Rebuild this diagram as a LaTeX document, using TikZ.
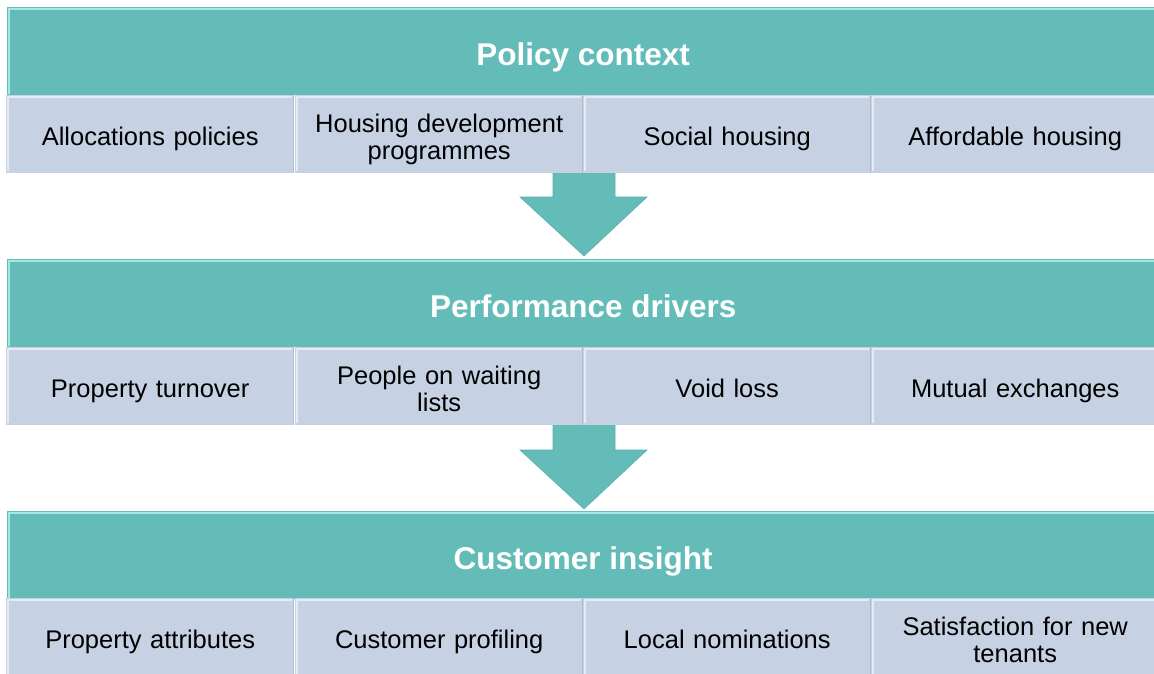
\documentclass[tikz,border=0pt]{standalone}
\usepackage{fontspec}
\setmainfont{Liberation Sans}
\usetikzlibrary{calc}
\definecolor{tealfill}{HTML}{64BCB9}
\definecolor{tealhi}{HTML}{A6E6E3}
\definecolor{tealsh}{HTML}{5AB2AF}
\definecolor{lavfill}{HTML}{C6D2E4}
\definecolor{lavhi}{HTML}{E4EBF5}
\definecolor{lavsh}{HTML}{AEBBD0}
\newcommand{\ctopstrut}{\rule{0pt}{30pt}}
\newcommand{\cbotstrut}{\rule[-6.8pt]{0pt}{0pt}}
\newcommand{\htopstrut}{\rule{0pt}{36pt}}
\newcommand{\hbotstrut}{\rule[-7.4pt]{0pt}{0pt}}
\tikzset{
  header/.style={rectangle, fill=tealfill, anchor=north west, inner sep=0pt,
    minimum width=1152pt, minimum height=88pt, text=white,
    font=\bfseries\fontsize{31.5}{34}\selectfont,
    execute at begin node=\htopstrut, execute at end node=\hbotstrut},
  subbox/.style={rectangle, fill=lavfill, anchor=north west, inner sep=0pt,
    minimum width=288pt, minimum height=78pt, text=black, text width=270pt, align=center,
    font=\fontsize{25.5}{27.5}\selectfont,
    execute at begin node=\ctopstrut, execute at end node=\cbotstrut},
  flowarrow/.style={fill=tealfill, draw=tealsh, line width=0.6pt},
  hiteal/.style={draw=tealhi, line width=2.5pt},
  hilav/.style={draw=lavhi, line width=2.5pt},
  shlav/.style={draw=lavsh, line width=1pt}
}
\newcommand{\subbevel}[1]{%
  \draw[hilav] ($(#1.south west)+(2,-2)$) -- ($(#1.north west)+(2,2)$) -- ($(#1.north east)+(-2,2)$);
  \draw[shlav] ($(#1.north east)+(-0.5,0)$) -- ($(#1.south east)+(-0.5,0)$);}
\newcommand{\headbevel}[1]{%
  \draw[hiteal] ($(#1.south west)+(2,-1)$) -- ($(#1.north west)+(2,2)$) -- ($(#1.north east)+(-2,2)$);}
\newcommand{\flowarrowat}[2]{%
  \coordinate (#1) at #2;
  \path[flowarrow] ($(#1)+(-31,0)$) -- ($(#1)+(31,0)$) -- ($(#1)+(31,27)$) -- ($(#1)+(63,27)$)
    -- ($(#1)+(0,86)$) -- ($(#1)+(-64,27)$) -- ($(#1)+(-31,27)$) -- cycle;}
\begin{document}
\begin{tikzpicture}[x=1pt,y=-1pt]
\useasboundingbox[fill=white] (0,0) rectangle (1154,674);
\begin{scope}
\clip (0,0) rectangle (1154,674);
% arrows (behind boxes)
\flowarrowat{arA}{(584,170)}
\flowarrowat{arB}{(584,423)}
% row 1
\node[header] (h1) at (7,7) {Policy context};
\headbevel{h1}
\node[subbox] (p1) at (6,95) {Allocations policies};
\node[subbox] (p2) at (295,95) {Housing development\\programmes};
\node[subbox] (p3) at (583,95) {Social housing};
\node[subbox] (p4) at (871,95) {Affordable housing};
\subbevel{p1}\subbevel{p2}\subbevel{p3}\subbevel{p4}
% row 2
\node[header] (h2) at (7,259) {Performance drivers};
\headbevel{h2}
\node[subbox] (d1) at (6,347) {Property turnover};
\node[subbox] (d2) at (295,347) {People on waiting\\lists};
\node[subbox] (d3) at (583,347) {Void loss};
\node[subbox] (d4) at (871,347) {Mutual exchanges};
\subbevel{d1}\subbevel{d2}\subbevel{d3}\subbevel{d4}
% row 3
\node[header] (h3) at (7,511) {Customer insight};
\headbevel{h3}
\node[subbox] (c1) at (6,598) {Property attributes};
\node[subbox] (c2) at (295,598) {Customer profiling};
\node[subbox] (c3) at (583,598) {Local nominations};
\node[subbox] (c4) at (871,598) {Satisfaction for new\\tenants};
\subbevel{c1}\subbevel{c2}\subbevel{c3}\subbevel{c4}
\end{scope}
\end{tikzpicture}
\end{document}
